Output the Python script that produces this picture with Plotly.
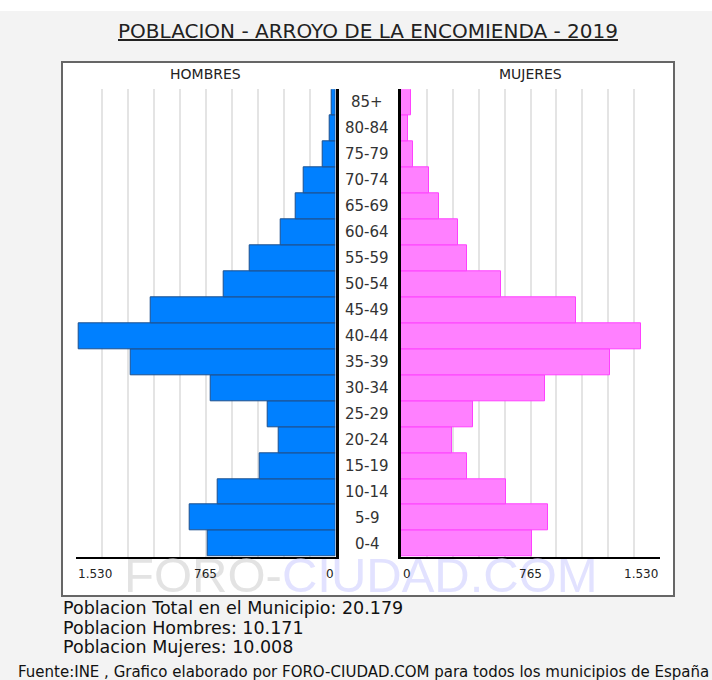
import plotly.graph_objects as go

# data
edades = ['0-4', '5-9', '10-14', '15-19', '20-24', '25-29', '30-34', '35-39', '40-44',
          '45-49', '50-54', '55-59', '60-64', '65-69', '70-74', '75-79', '80-84', '85+']
hombres = [752, 858, 691, 444, 337, 401, 737, 1209, 1515, 1088, 660, 507, 325, 232, 185, 78, 32, 20]
mujeres = [775, 867, 622, 392, 300, 424, 851, 1234, 1418, 1034, 592, 392, 334, 226, 163, 71, 41, 57]
ticks_val = [0, 765, 1530]
ticks_txt = ['0', '765', '1.530']

W, H = 712, 680
FONT = 'DejaVu Sans'


def px(x):
    return x / W


def py(y):
    return 1 - y / H


fig = go.Figure()

fig.add_trace(go.Bar(y=edades, x=hombres, orientation='h', xaxis='x', yaxis='y',
                     marker=dict(color='#0080ff', line=dict(color='#1d4f8c', width=1)),
                     hoverinfo='x+y', name='Hombres'))
fig.add_trace(go.Bar(y=edades, x=mujeres, orientation='h', xaxis='x2', yaxis='y2',
                     marker=dict(color='#ff80ff', line=dict(color='#ff40ff', width=1)),
                     hoverinfo='x+y', name='Mujeres'))

grid = dict(showgrid=True, gridcolor='#e4e4e4', gridwidth=1.5, dtick=153, tick0=0,
            zeroline=False, showticklabels=False, ticks='',
            showline=True, linecolor='black', linewidth=2, fixedrange=True)

fig.update_layout(
    width=W, height=H, margin=dict(l=0, r=0, t=0, b=0),
    paper_bgcolor='white', plot_bgcolor='white',
    showlegend=False, bargap=0,
    font=dict(family=FONT, color='#222'),
    xaxis=dict(domain=[px(75.7), px(335.5)], range=[1530, 0], anchor='y', **grid),
    xaxis2=dict(domain=[px(401), px(660)], range=[0, 1530], anchor='y2', **grid),
    yaxis=dict(domain=[py(556.7), py(89.3)], type='category', categoryorder='array',
               categoryarray=edades, anchor='x', side='right', showticklabels=False,
               showgrid=False, showline=True, linecolor='black', linewidth=3,
               layer='above traces', fixedrange=True),
    yaxis2=dict(domain=[py(556.7), py(89.3)], matches='y', anchor='x2', side='left',
                showticklabels=False, showgrid=False, showline=True, linecolor='black',
                linewidth=3, layer='above traces', fixedrange=True),
)

# background: gray page and white framed box
fig.add_shape(type='rect', xref='paper', yref='paper', x0=0, x1=1, y0=0, y1=py(11),
              fillcolor='#f3f3f3', line=dict(width=0), layer='below')
fig.add_shape(type='rect', xref='paper', yref='paper', x0=px(62), x1=px(674),
              y0=py(596), y1=py(62), fillcolor='white',
              line=dict(color='#666', width=2), layer='below')


def nota(text, x, y, xref='paper', yref='paper', xanchor='center', **font):
    return dict(text=text, xref=xref, yref=yref, x=x, y=y, xanchor=xanchor,
                yanchor='middle', showarrow=False, font=font)


ann = []
# watermark
ann.append(nota('<span style="color:#e3e3e3">FORO-</span><span style="color:#e2e2ff">CIUDAD.COM</span>',
                px(361), py(575), family='Liberation Sans', size=49))
# title
ann.append(nota('POBLACION - ARROYO DE LA ENCOMIENDA - 2019', px(367.5), py(31),
                size=20, color='#222', lineposition='under'))
ann.append(nota('HOMBRES', px(205), py(74), size=14))
ann.append(nota('MUJERES', px(530), py(74), size=14))
# age labels
for e in edades:
    ann.append(nota(e, px(367), e, yref='y', size=15, color='#333'))
# tick labels
anchors_l = {0: 'right', 765: 'center', 1530: 'left'}
anchors_r = {0: 'left', 765: 'center', 1530: 'right'}
for v, t in zip(ticks_val, ticks_txt):
    ann.append(nota(t, v, py(574), xref='x', xanchor=anchors_l[v], size=12))
    ann.append(nota(t, v, py(574), xref='x2', xanchor=anchors_r[v], size=12))
# footer
lineas = ['Poblacion Total en el Municipio: 20.179',
          'Poblacion Hombres: 10.171',
          'Poblacion Mujeres: 10.008']
for i, l in enumerate(lineas):
    ann.append(nota(l, px(61), py(608 + i * 19.5), xanchor='left', size=17.5, color='#111'))
ann.append(nota('Fuente:INE , Grafico elaborado por FORO-CIUDAD.COM para todos los municipios de España',
                px(16), py(672), xanchor='left', size=15, color='#111'))

fig.update_layout(annotations=ann)

fig.write_html('out.html', config={'displayModeBar': False},
               post_script="document.body.style.margin='0';")
